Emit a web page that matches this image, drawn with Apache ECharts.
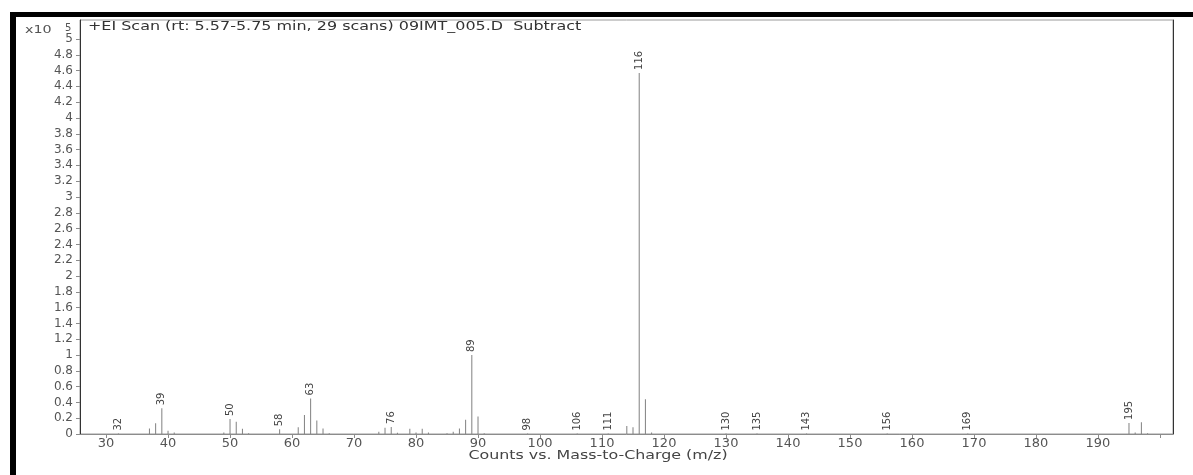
<!DOCTYPE html>
<html>
<head>
<meta charset="utf-8">
<script src="https://cdn.jsdelivr.net/npm/echarts@6/dist/echarts.min.js"></script>
<style>
html,body{margin:0;padding:0;background:#fff;}
#chart{width:1193px;height:475px;}
</style>
</head>
<body>
<div id="chart"></div>
<script>
// m/z values of peaks
const mz = [32, 37, 38, 39, 40, 41, 49, 50, 51, 52, 53, 58, 61, 62, 63, 64, 65, 66,
  74, 75, 76, 77, 79, 80, 81, 82, 85, 86, 87, 88, 89, 90, 91, 98, 106, 111,
  114, 115, 116, 117, 118, 130, 135, 143, 156, 169, 195, 196, 197, 198];
// counts (x10^5)
const counts = [0.005, 0.07, 0.135, 0.325, 0.04, 0.02, 0.02, 0.19, 0.155, 0.065, 0.01, 0.06, 0.085, 0.24, 0.45, 0.17, 0.07, 0.01,
  0.03, 0.08, 0.09, 0.015, 0.065, 0.02, 0.065, 0.02, 0.01, 0.03, 0.07, 0.18, 1.0, 0.22, 0.01, 0.005, 0.005, 0.005,
  0.1, 0.085, 4.57, 0.44, 0.02, 0.005, 0.005, 0.005, 0.005, 0.005, 0.14, 0.02, 0.15, 0.01];
// labelled peaks
const labelled = [32, 39, 50, 58, 63, 76, 89, 98, 106, 111, 116, 130, 135, 143, 156, 169, 195];
// axis ticks / labels
const xTicks = [30, 40, 50, 60, 70, 80, 90, 100, 110, 120, 130, 140, 150, 160, 170, 180, 190, 200];
const xLabels = [30, 40, 50, 60, 70, 80, 90, 100, 110, 120, 130, 140, 150, 160, 170, 180, 190];
const yTicks = [0, 0.2, 0.4, 0.6, 0.8, 1, 1.2, 1.4, 1.6, 1.8, 2, 2.2, 2.4, 2.6, 2.8, 3, 3.2, 3.4, 3.6, 3.8, 4, 4.2, 4.4, 4.6, 4.8, 5];
const titleText = '+EI Scan (rt: 5.57-5.75 min, 29 scans) 09IMT_005.D  Subtract';
const xName = 'Counts vs. Mass-to-Charge (m/z)';

const FONT = 'DejaVu Sans';
const chart = echarts.init(document.getElementById('chart'), null, {renderer: 'canvas'});
const data = mz.map((m, i) => [m, counts[i]]);

chart.setOption({
  animation: false,
  backgroundColor: '#ffffff',
  grid: {left: 80, right: 20, top: 20, bottom: 41, show: true, borderColor: '#9a9a9a', borderWidth: 1},
  xAxis: {
    type: 'value', min: 25.8, max: 202.1,
    axisLine: {show: true, onZero: false, lineStyle: {color: '#8c8c8c', width: 1}},
    axisTick: {show: true, customValues: xTicks, length: 4, lineStyle: {color: '#8c8c8c'}},
    axisLabel: {customValues: xLabels, color: '#555', fontFamily: FONT, fontSize: 13, margin: 3},
    splitLine: {show: false}
  },
  yAxis: [{
    type: 'value', min: 0, max: 5.24,
    axisLine: {show: true, lineStyle: {color: '#333', width: 1}},
    axisTick: {show: true, customValues: yTicks, length: 4, lineStyle: {color: '#8c8c8c'}},
    axisLabel: {customValues: yTicks, color: '#555', fontFamily: FONT, fontSize: 12, margin: 7},
    splitLine: {show: false}
  }, {
    type: 'value', min: 0, max: 5.24, position: 'right',
    axisLine: {show: true, lineStyle: {color: '#333', width: 1}},
    axisTick: {show: false}, axisLabel: {show: false}, splitLine: {show: false}
  }],
  series: [{
    type: 'bar',
    data: data,
    barWidth: 1,
    itemStyle: {color: '#808080'},
    label: {
      show: true, position: 'top', rotate: 90, align: 'left', verticalAlign: 'middle',
      distance: 3, color: '#444', fontFamily: FONT, fontSize: 10,
      formatter: p => labelled.indexOf(p.value[0]) >= 0 ? String(p.value[0]) : ''
    }
  }],
  graphic: [
    {type: 'rect', shape: {x: 10, y: 12, width: 1183, height: 5}, style: {fill: '#000'}},
    {type: 'rect', shape: {x: 10, y: 12, width: 6, height: 463}, style: {fill: '#000'}},
    {type: 'text', x: 25, y: 30, scaleX: 1.3, style: {text: 'x10', fill: '#555', font: '11px "DejaVu Sans"', verticalAlign: 'middle'}},
    {type: 'text', x: 65, y: 28, style: {text: '5', fill: '#555', font: '10px "DejaVu Sans"', verticalAlign: 'middle'}},
    {type: 'text', x: 88, y: 27, scaleX: 1.33, style: {text: titleText, fill: '#333', font: '12px "DejaVu Sans"', verticalAlign: 'middle'}},
    {type: 'text', x: 598, y: 456, scaleX: 1.22, style: {text: xName, fill: '#444', font: '13px "DejaVu Sans"', align: 'center', verticalAlign: 'middle'}}
  ]
});
</script>
</body>
</html>
